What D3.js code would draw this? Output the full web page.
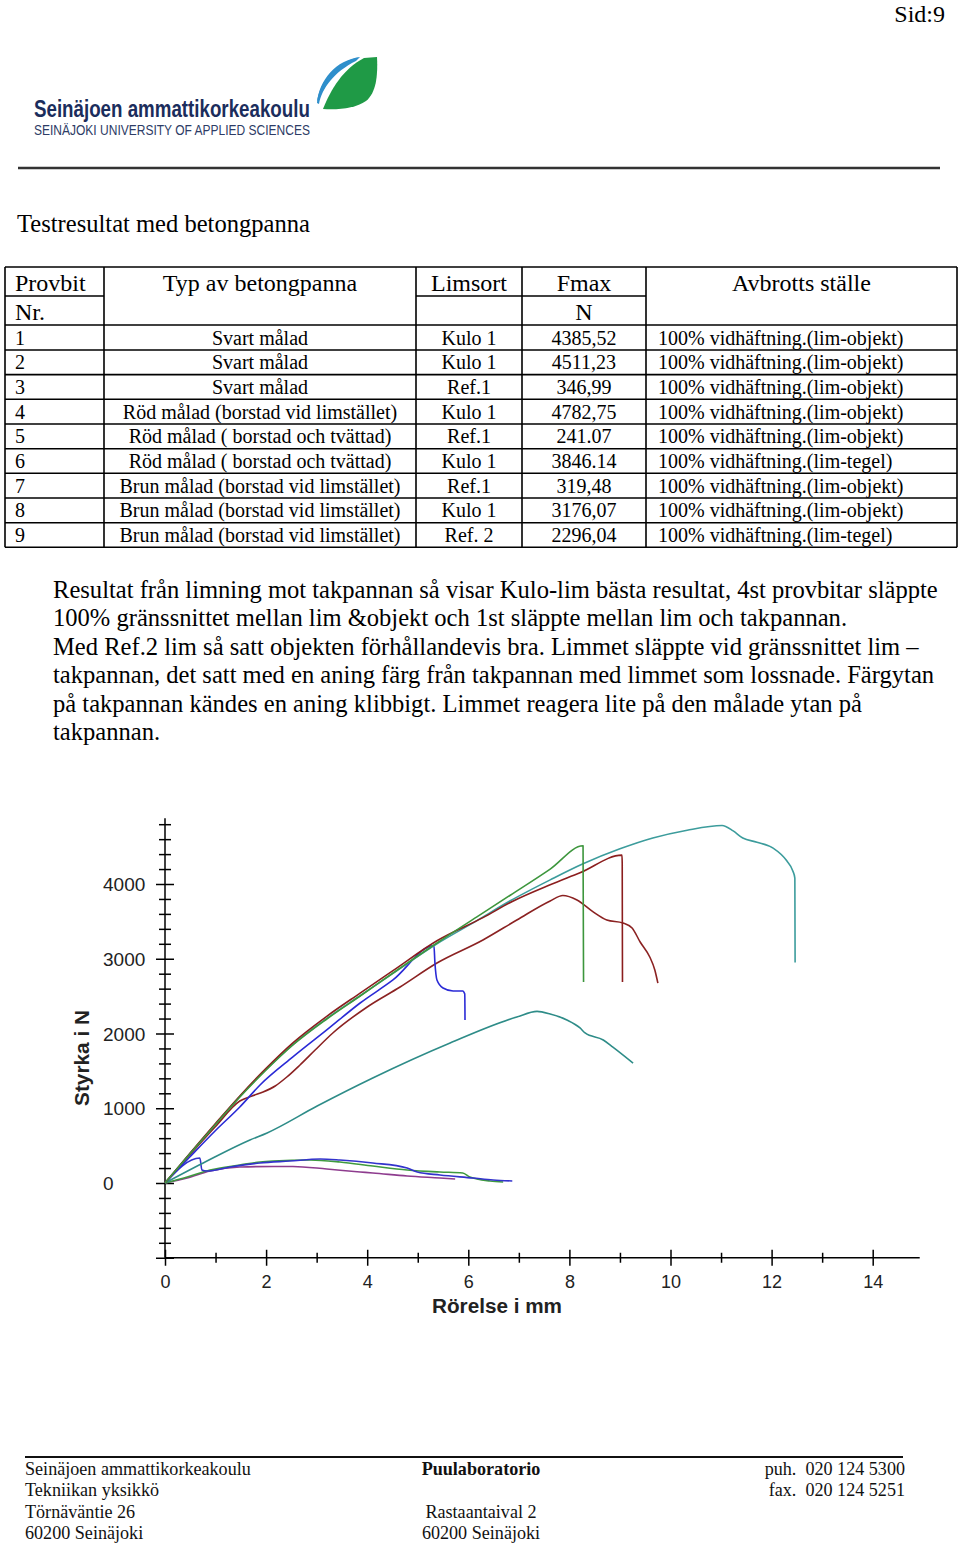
<!DOCTYPE html>
<html><head><meta charset="utf-8">
<script src="https://cdn.jsdelivr.net/npm/d3@7"></script>
<style>
body{margin:0;background:#fff}
svg{display:block}
</style>
</head><body>
<svg id="page" width="960" height="1547"></svg>
<script>
// ---------- DATA ----------
const pageLabel = "Sid:9";
const logoName = "Seinäjoen ammattikorkeakoulu";
const logoSub = "SEINÄJOKI UNIVERSITY OF APPLIED SCIENCES";
const title = "Testresultat med betongpanna";

const headerTop = ["Provbit", "Typ av betongpanna", "Limsort", "Fmax", "Avbrotts ställe"];
const headerSub = ["Nr.", "", "", "N", ""];
const provbitNr = ["1","2","3","4","5","6","7","8","9"];
const typ = ["Svart målad","Svart målad","Svart målad","Röd målad (borstad vid limstället)",
  "Röd målad ( borstad och tvättad)","Röd målad ( borstad och tvättad)",
  "Brun målad (borstad vid limstället)","Brun målad (borstad vid limstället)","Brun målad (borstad vid limstället)"];
const limsort = ["Kulo 1","Kulo 1","Ref.1","Kulo 1","Ref.1","Kulo 1","Ref.1","Kulo 1","Ref. 2"];
const fmax = ["4385,52","4511,23","346,99","4782,75","241.07","3846.14","319,48","3176,07","2296,04"];
const avbrott = ["100% vidhäftning.(lim-objekt)","100% vidhäftning.(lim-objekt)","100% vidhäftning.(lim-objekt)",
  "100% vidhäftning.(lim-objekt)","100% vidhäftning.(lim-objekt)","100% vidhäftning.(lim-tegel)",
  "100% vidhäftning.(lim-objekt)","100% vidhäftning.(lim-objekt)","100% vidhäftning.(lim-tegel)"];

const paragraph = [
  "Resultat från limning mot takpannan så visar Kulo-lim bästa resultat, 4st provbitar släppte",
  "100% gränssnittet mellan lim &objekt och 1st släppte mellan lim och takpannan.",
  "Med Ref.2 lim så satt objekten förhållandevis bra. Limmet släppte vid gränssnittet lim –",
  "takpannan, det satt med en aning färg från takpannan med limmet som lossnade. Färgytan",
  "på takpannan kändes en aning klibbigt. Limmet reagera lite på den målade ytan på",
  "takpannan."
];

const xTitle = "Rörelse i mm";
const yTitle = "Styrka i N";
const xTickValues = [0,1,2,3,4,5,6,7,8,9,10,11,12,13,14];
const xTickLabels = ["0","","2","","4","","6","","8","","10","","12","","14"];
const yTickValues = [-1000,-800,-600,-400,-200,0,200,400,600,800,1000,1200,1400,1600,1800,2000,2200,2400,2600,2800,3000,3200,3400,3600,3800,4000,4200,4400,4600,4800];
const yTickLabelValues = [0,1000,2000,3000,4000];

// curves: [movement mm, force N]
const curveTealLong = [[0,0],[0.49,392],[0.99,780],[1.48,1155],[1.98,1505],[2.53,1852],[3.2,2200],[3.86,2505],[4.51,2805],[5.38,3200],[6.17,3510],[6.83,3775],[7.62,4055],[8.27,4270],[9.0,4470],[9.65,4615],[10.33,4720],[11.02,4783],[11.24,4710],[11.43,4615],[11.71,4560],[12.03,4480],[12.3,4310],[12.42,4175],[12.46,4080],[12.465,2950]];
const curveGreen = [[0,0],[0.49,388],[0.99,776],[1.48,1150],[1.98,1498],[2.53,1846],[3.2,2194],[3.86,2502],[4.51,2809],[5.38,3211],[6.17,3560],[6.83,3850],[7.62,4200],[8.27,4511],[8.28,2690]];
const curveRed1 = [[0,0],[0.49,395],[0.99,790],[1.48,1165],[1.98,1520],[2.53,1875],[3.2,2230],[3.86,2540],[4.51,2840],[5.38,3240],[6.29,3550],[6.88,3770],[7.62,3990],[8.21,4150],[9.04,4386],[9.045,4280],[9.05,2690]];
const curveRed2 = [[0,0],[0.49,375],[0.99,749],[1.48,1097],[1.72,1164],[1.94,1217],[2.18,1298],[2.41,1418],[2.67,1579],[2.97,1779],[3.32,2007],[4.0,2355],[4.65,2622],[5.38,2943],[6.29,3251],[6.96,3518],[7.62,3773],[7.87,3846],[8.15,3786],[8.47,3626],[8.74,3518],[9.06,3478],[9.24,3411],[9.4,3224],[9.59,3023],[9.69,2850],[9.75,2675]];
const curveBlue = [[0,0],[0.49,348],[0.99,696],[1.48,1017],[1.88,1311],[2.53,1686],[3.2,2047],[3.86,2408],[4.51,2716],[5.32,3176],[5.34,2943],[5.38,2716],[5.5,2609],[5.7,2569],[5.89,2569],[5.93,2528],[5.935,2180]];
const curveTealLow = [[0,0],[0.83,294],[1.68,575],[2.02,670],[3.01,1030],[4.11,1405],[5.64,1873],[6.96,2221],[7.36,2296],[7.62,2261],[7.95,2181],[8.21,2074],[8.31,2007],[8.67,1913],[8.86,1819],[9.26,1605]];
const curveGreenLow = [[0,0],[0.44,80],[0.89,174],[1.48,241],[1.88,281],[2.14,294],[2.87,308],[3.46,281],[4.11,227],[4.79,174],[5.44,147],[5.89,134],[6.03,80],[6.43,27],[6.69,13]];
const curveBlueLow = [[0,0],[0.69,334],[0.73,174],[0.83,160],[1.29,214],[1.88,268],[2.47,294],[3.07,321],[3.46,308],[4.11,268],[4.79,201],[4.99,147],[5.44,107],[6.09,67],[6.49,40],[6.87,27]];
const curvePurple = [[0,0],[0.44,67],[0.89,160],[1.48,214],[2.14,221],[2.53,221],[3.2,187],[3.86,147],[4.11,134],[4.79,94],[5.44,67],[5.74,54]];

const footerLeft = ["Seinäjoen ammattikorkeakoulu","Tekniikan yksikkö","Törnäväntie 26","60200 Seinäjoki"];
const footerMid = ["Puulaboratorio","","Rastaantaival 2","60200 Seinäjoki"];
const footerRight = ["puh.  020 124 5300","fax.  020 124 5251","",""];

// ---------- DRAW ----------
const SERIF = "'Liberation Serif','Times New Roman',serif";
const SANS = "'Liberation Sans',Arial,sans-serif";
const svg = d3.select("#page");
svg.append("rect").attr("width",960).attr("height",1547).attr("fill","#fff");

function fit(sel, w){
  const n = sel.node(); const fs = parseFloat(sel.attr("font-size"));
  const L = n.getComputedTextLength(); if(L>0) sel.attr("font-size", (fs*w/L).toFixed(2));
  return sel;
}

// header
svg.append("text").attr("x",945).attr("y",22).attr("text-anchor","end")
  .attr("font-family",SERIF).attr("font-size",24).text(pageLabel);

// logo
const logo = svg.append("g");
logo.append("path").attr("fill","#1f9a46")
  .attr("d","M323,109 C331,89 343,69 364,58 L377,57 C378,76 376,93 366,101 C356,108 340,110 323,109 Z");
logo.append("path").attr("fill","#2f8fcb")
  .attr("d","M360,57 C336,60 319,80 317,103 L319,104 C322,88 334,72 356,61 Z");
logo.append("path").attr("fill","#2f8fcb")
  .attr("d","M360,57 C338,61 320,80 317,102 C321,94 326,84 333,75 C340,67 349,61 360,57 Z");
const lt1 = logo.append("text").attr("x",34).attr("y",0).attr("font-family",SANS).attr("font-weight","bold")
  .attr("font-size",19).attr("fill","#1b2d5c").text(logoName);
fit(lt1, 276); lt1.attr("transform","translate(0,117) scale(1,1.25)");
const lt2 = logo.append("text").attr("x",34).attr("y",0).attr("font-family",SANS)
  .attr("font-size",13).attr("fill","#2d3c66").text(logoSub);
fit(lt2, 276); lt2.attr("transform","translate(0,135) scale(1,1.15)");
svg.append("line").attr("x1",18).attr("x2",940).attr("y1",168).attr("y2",168)
  .attr("stroke","#333").attr("stroke-width",2.5);

fit(svg.append("text").attr("x",17).attr("y",232).attr("font-family",SERIF).attr("font-size",23).text(title), 293);

// table
const colX = [5,104,416,522,646,957];
const tb = svg.append("g").attr("stroke","#000").attr("stroke-width",1.6);
[267,325,350,374.6,399.3,424,448.7,473.3,498,522.7,547.3].forEach(y=>{
  tb.append("line").attr("x1",colX[0]).attr("x2",colX[5]).attr("y1",y).attr("y2",y);
});
[[0,1],[2,3],[3,4]].forEach(([a,b])=>tb.append("line").attr("x1",colX[a]).attr("x2",colX[b]).attr("y1",296).attr("y2",296));
colX.forEach(x=>tb.append("line").attr("x1",x).attr("x2",x).attr("y1",267).attr("y2",547.3));

const th = svg.append("g").attr("font-family",SERIF).attr("font-size",24);
const centers = colX.slice(0,5).map((x,i)=>(x+colX[i+1])/2);
headerTop.forEach((t,i)=>{
  th.append("text").attr("x", i===0?15:centers[i]).attr("y",291)
    .attr("text-anchor", i===0?"start":"middle").text(t);
});
headerSub.forEach((t,i)=>{ if(t) th.append("text").attr("x", i===0?15:centers[i]).attr("y",320)
    .attr("text-anchor", i===0?"start":"middle").text(t); });

const td = svg.append("g").attr("font-family",SERIF).attr("font-size",20);
provbitNr.forEach((n,i)=>{
  const y = 325 + i*24.7 + 19.5;
  td.append("text").attr("x",15).attr("y",y).text(n);
  td.append("text").attr("x",centers[1]).attr("y",y).attr("text-anchor","middle").text(typ[i]);
  td.append("text").attr("x",centers[2]).attr("y",y).attr("text-anchor","middle").text(limsort[i]);
  td.append("text").attr("x",centers[3]).attr("y",y).attr("text-anchor","middle").text(fmax[i]);
  td.append("text").attr("x",658).attr("y",y).text(avbrott[i]);
});

// paragraph
const pg = svg.append("g").attr("font-family",SERIF);
const p0 = pg.append("text").attr("x",53).attr("y",598).attr("font-size",23).text(paragraph[0]);
fit(p0, 885);
const pfs = p0.attr("font-size");
paragraph.slice(1).forEach((t,i)=>{
  pg.append("text").attr("x",53).attr("y",598+(i+1)*28.4).attr("font-size",pfs).text(t);
});

// ---------- CHART ----------
const x = d3.scaleLinear().domain([0,15]).range([165, 165+15*50.55]);
const y = d3.scaleLinear().domain([0,4000]).range([1183, 884]);
const chart = svg.append("g");

// y axis
const yAxis = d3.axisLeft(y).tickValues(yTickValues).tickSize(0)
  .tickFormat(d => yTickLabelValues.includes(d) ? String(d) : "");
const gy = chart.append("g").attr("transform",`translate(${x(0)},0)`).call(yAxis);
gy.select(".domain").remove();
gy.selectAll(".tick line").attr("x1", d=> d%1000===0 ? -9 : -6).attr("x2", d=> d%1000===0 ? 9 : 6)
  .attr("stroke","#000").attr("stroke-width",1.5);
gy.selectAll(".tick text").attr("x",-62).attr("dy","0.35em").attr("text-anchor","start")
  .attr("font-family",SANS).attr("font-size",19).attr("fill","#222");
chart.append("line").attr("x1",x(0)).attr("x2",x(0)).attr("y1",y(4880)).attr("y2",y(-1000))
  .attr("stroke","#000").attr("stroke-width",1.5);

// x axis
const xAxis = d3.axisBottom(x).tickValues(xTickValues).tickSize(0)
  .tickFormat((d,i) => xTickLabels[i]);
const gx = chart.append("g").attr("transform",`translate(0,${y(-1000)})`).call(xAxis);
gx.select(".domain").remove();
gx.selectAll(".tick line").attr("y1", d=> d%2===0 ? -8 : -5).attr("y2", d=> d%2===0 ? 8 : 5)
  .attr("stroke","#000").attr("stroke-width",1.5);
gx.selectAll(".tick text").attr("y",17).attr("dy","0.71em")
  .attr("font-family",SANS).attr("font-size",18).attr("fill","#222");
chart.append("line").attr("x1",x(0)).attr("x2",x(14.93)).attr("y1",y(-1000)).attr("y2",y(-1000))
  .attr("stroke","#000").attr("stroke-width",1.5);

// titles
fit(chart.append("text").attr("x",497).attr("y",1313).attr("text-anchor","middle")
  .attr("font-family",SANS).attr("font-weight","bold").attr("font-size",20).attr("fill","#222").text(xTitle), 130);
fit(chart.append("text").attr("transform","translate(89,1058) rotate(-90)").attr("text-anchor","middle")
  .attr("font-family",SANS).attr("font-weight","bold").attr("font-size",20).attr("fill","#222").text(yTitle), 96);

// curves
const line = d3.line().x(d=>x(d[0])).y(d=>y(d[1])).curve(d3.curveMonotoneX);
const series = [
  [curvePurple,"#8e3c8e"],
  [curveGreenLow,"#3f9a3f"],
  [curveBlueLow,"#3333cc"],
  [curveTealLow,"#2e8c88"],
  [curveRed2,"#8b2222"],
  [curveBlue,"#2a2ad6"],
  [curveTealLong,"#3c9c9c"],
  [curveRed1,"#8b1e1e"],
  [curveGreen,"#3d963d"]
];
chart.append("g").selectAll("path").data(series).join("path")
  .attr("d", d=>line(d[0])).attr("fill","none").attr("stroke", d=>d[1])
  .attr("stroke-width",1.6).attr("stroke-linejoin","round");

// footer
svg.append("line").attr("x1",25).attr("x2",903).attr("y1",1457).attr("y2",1457)
  .attr("stroke","#111").attr("stroke-width",2);
const ft = svg.append("g").attr("font-family",SERIF).attr("fill","#111");
const fl0 = ft.append("text").attr("x",25).attr("y",1475).attr("font-size",17).text(footerLeft[0]);
fit(fl0, 226);
const ffs = fl0.attr("font-size");
footerLeft.forEach((t,i)=>{ if(i>0) ft.append("text").attr("x",25).attr("y",1475+i*21.4).attr("font-size",ffs).text(t); });
footerMid.forEach((t,i)=>{ if(t) ft.append("text").attr("x",481).attr("y",1475+i*21.4).attr("text-anchor","middle")
  .attr("font-size",ffs).attr("font-weight", i===0?"bold":"normal").text(t); });
footerRight.forEach((t,i)=>{ if(t) ft.append("text").attr("x",905).attr("y",1475+i*21.4).attr("text-anchor","end")
  .attr("font-size",ffs).style("white-space","pre").text(t); });
</script>
</body></html>
